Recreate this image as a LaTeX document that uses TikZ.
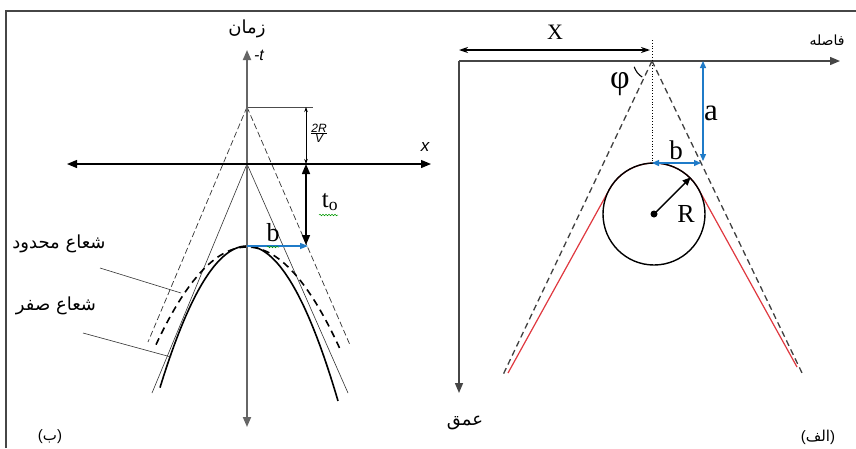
\documentclass[tikz,border=0pt]{standalone}
\usepackage{fontspec}
\setmainfont{Liberation Serif}
\newfontfamily\arabicfont[Script=Arabic]{DejaVu Sans}
\newfontfamily\arialfont{Liberation Sans}
\TeXXeTstate=1
\usetikzlibrary{arrows.meta,decorations.pathmorphing}
\definecolor{myblue}{RGB}{31,123,200}
\definecolor{myred}{RGB}{224,56,63}
\definecolor{axgray}{RGB}{70,70,70}
\tikzset{
  axisline/.style={line width=1.4pt, draw=axgray},
  bigtip/.style={-{Triangle[length=10pt,width=8pt]}},
  thinline/.style={line width=0.6pt, draw=black!80},
  thickcurve/.style={line width=1.6pt, draw=black},
  dashcurve/.style={line width=1.6pt, draw=black, dash pattern=on 7pt off 5pt},
  thindash/.style={line width=0.7pt, draw=black!80, dash pattern=on 6pt off 3pt},
  bigdash/.style={line width=1.3pt, draw=black!75, dash pattern=on 6pt off 4pt},
  bluearrow/.style={line width=1.3pt, draw=myblue, {Triangle[length=7pt,width=6pt]}-{Triangle[length=7pt,width=6pt]}},
  ar/.style={font=\arabicfont\fontsize{18}{20}\selectfont, inner sep=0pt},
  lab/.style={inner sep=0pt},
  squiggle/.style={draw=green!60!black, line width=0.5pt, decorate, decoration={snake, amplitude=0.8pt, segment length=3pt}}
}
\begin{document}
\begin{tikzpicture}[x=1pt,y=-1pt]
\useasboundingbox (0,0) rectangle (856,448);
\fill[white] (0,0) rectangle (856,448);
% frame
\coordinate (F1) at (6,448);
\coordinate (F2) at (6,11);
\coordinate (F3) at (856,11);
\draw[line width=1.5pt, draw=axgray] (F1) -- (F2) -- (F3);

% ===== left diagram (b) =====
\coordinate (Lt) at (247,50);
\coordinate (Lb) at (247,427);
\coordinate (Hl) at (67,164);
\coordinate (Hr) at (431,164);
\coordinate (O) at (247,164);
\coordinate (Ap) at (247,107);
\coordinate (ApR) at (313,107);
\coordinate (D1) at (306,107);
\coordinate (D2) at (306,164);
\coordinate (D3) at (306,245);
\coordinate (V) at (247,246);
\coordinate (Vb) at (308,246);
\coordinate (TL) at (152,393);
\coordinate (TR) at (348,393);
\coordinate (DL1) at (148,342);
\coordinate (DR1) at (350,345);

\draw[line width=0.6pt, draw=black!70] (Ap) -- (ApR);
\draw[thinline] (O) -- (TL);
\draw[thinline] (O) -- (TR);
\draw[thindash] (Ap) -- (DL1);
\draw[thindash] (Ap) -- (DR1);
\draw[thickcurve] plot[domain=-87:91, samples=90] ({247+\x},{246+0.0187*\x*\x});
\draw[dashcurve] plot[domain=-91:93, samples=90] ({247+\x},{247+0.0118*\x*\x});
\draw[line width=1.8pt, draw=black!60, {Triangle[length=10pt,width=8pt]}-{Triangle[length=10pt,width=8pt]}] (Lb) -- (Lt);
\draw[line width=1.2pt, draw=black, {Triangle[length=10pt,width=8pt]}-{Triangle[length=10pt,width=8pt]}] (Hl) -- (Hr);
\draw[line width=0.6pt, {Stealth[length=5pt,width=3.5pt]}-{Stealth[length=5pt,width=3.5pt]}] (D1) -- (D2);
\draw[line width=1.5pt, {Triangle[length=10pt,width=8pt]}-{Triangle[length=10pt,width=8pt]}] (D2) -- (D3);
\draw[line width=1.3pt, draw=myblue, -{Triangle[length=8pt,width=6pt]}] (V) -- (Vb);

\node[ar, font=\arabicfont\fontsize{18}{20}\selectfont] (zaman) at (247,29) {\beginR زمان\endR};
\node[lab, font=\arialfont\itshape\fontsize{16}{16}\selectfont] (mt) at (259,55) {-t};
\node[lab, font=\arialfont\itshape\fontsize{17}{17}\selectfont] (xl) at (425,147) {x};
\node[lab] (frac) at (319,133) {$\frac{\hbox{\arialfont\itshape\fontsize{12}{12}\selectfont 2R}}{\hbox{\arialfont\itshape\fontsize{12}{12}\selectfont V}}$};
\node[lab, font=\fontsize{25}{25}\selectfont] (t0) at (330,202) {t\textsubscript{o}};
\node[lab, font=\fontsize{26}{26}\selectfont] (bl) at (273,233) {b};
\coordinate (sq1a) at (319,215);
\coordinate (sq1b) at (338,215);
\draw[squiggle] (sq1a) -- (sq1b);
\coordinate (sq2a) at (267,247);
\coordinate (sq2b) at (279,247);
\draw[squiggle] (sq2a) -- (sq2b);

\node[ar] (mahdud) at (59,244) {\beginR شعاع محدود\endR};
\node[ar] (sefr) at (56,306) {\beginR شعاع صفر\endR};
\coordinate (p1a) at (100,268);
\coordinate (p1b) at (181,293);
\coordinate (p2a) at (83,333);
\coordinate (p2b) at (171,357);
\draw[thinline] (p1a) -- (p1b);
\draw[thinline] (p2a) -- (p2b);
\node[lab, font=\fontsize{15}{17}\selectfont] (be) at (50,437) {{\arialfont(}{\arabicfont\beginR ب\endR}{\arialfont)}};

% ===== right diagram (alef) =====
\coordinate (RO) at (459,61);
\coordinate (Rx) at (840,61);
\coordinate (Rd) at (459,393);
\coordinate (Xl) at (459,50);
\coordinate (Xr) at (650,50);
\coordinate (Dt) at (652,40);
\coordinate (Db) at (652,163);
\coordinate (Apx) at (652,61);
\coordinate (DL) at (502,377);
\coordinate (DR) at (803,375);
\coordinate (Aa1) at (703,61);
\coordinate (Aa2) at (703,161);
\coordinate (Bb1) at (652,163);
\coordinate (Bb2) at (701,163);
\coordinate (RL) at (508,373);
\coordinate (RR) at (797,367);
\coordinate (TgL) at (609.4,189.4);
\coordinate (TgR) at (698.6,189.3);

\draw[axisline, bigtip] (RO) -- (Rx);
\draw[axisline, bigtip] (RO) -- (Rd);
\draw[line width=1.3pt, {Stealth[length=9pt,width=6pt]}-{Stealth[length=9pt,width=6pt]}] (Xl) -- (Xr);
\draw[line width=0.8pt, dotted] (Dt) -- (Db);
\draw[bigdash] (Apx) -- (DL);
\draw[bigdash] (Apx) -- (DR);
\draw[line width=1.2pt, draw=myred] (RL) -- (TgL) arc[start angle=208.9, end angle=331, radius=51] -- (RR);
\node[draw=black, line width=1.4pt, circle, minimum size=102pt, inner sep=0pt] (C) at (654,214) {};
\fill (C.center) circle[radius=3.5];
\draw[line width=1.4pt, -{Triangle[length=8pt,width=7pt]}] (C.center) -- (C.45);
\draw[bluearrow] (Aa1) -- (Aa2);
\draw[bluearrow] (Bb1) -- (Bb2);
\coordinate (phiA) at (634.2,66.8);
\draw[line width=1.1pt] (phiA) arc[start angle=162, end angle=122, radius=19];

\node[lab, font=\fontsize{22}{22}\selectfont] (Xlab) at (555,32) {X};
\node[lab, font=\fontsize{34}{34}\selectfont] (phi) at (620,84) {φ};
\node[lab, font=\fontsize{31}{31}\selectfont] (alab) at (711,113) {a};
\node[lab, font=\fontsize{27}{27}\selectfont] (blab) at (676,150) {b};
\node[lab, font=\fontsize{26}{26}\selectfont] (Rlab) at (686,214) {R};
\node[ar, font=\arabicfont\fontsize{14}{16}\selectfont] (fasele) at (827,40) {\beginR فاصله\endR};
\node[ar] (omq) at (465,423) {\beginR عمق\endR};
\node[lab, font=\fontsize{15}{17}\selectfont] (alef) at (818,437) {{\arialfont(}{\arabicfont\beginR الف\endR}{\arialfont)}};
\end{tikzpicture}
\end{document}
